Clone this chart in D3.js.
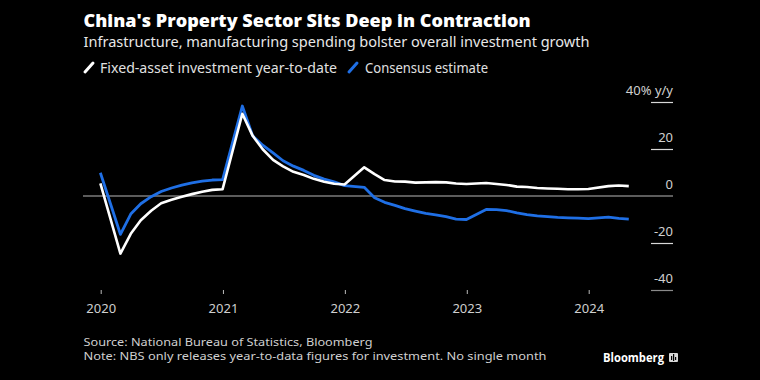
<!DOCTYPE html>
<html>
<head>
<meta charset="utf-8">
<script src="https://cdn.jsdelivr.net/npm/d3@7/dist/d3.min.js"></script>
<style>
  html, body { margin: 0; padding: 0; background: #000; }
  svg { display: block; }
</style>
</head>
<body>
<svg id="chart" width="760" height="380"></svg>
<script>
// ---- Data (year-to-date % y/y, plotted at month end) ----
const dates = [
  "2019-12",
  "2020-02","2020-03","2020-04","2020-05","2020-06","2020-07","2020-08","2020-09","2020-10","2020-11","2020-12",
  "2021-02","2021-03","2021-04","2021-05","2021-06","2021-07","2021-08","2021-09","2021-10","2021-11","2021-12",
  "2022-02","2022-03","2022-04","2022-05","2022-06","2022-07","2022-08","2022-09","2022-10","2022-11","2022-12",
  "2023-02","2023-03","2023-04","2023-05","2023-06","2023-07","2023-08","2023-09","2023-10","2023-11","2023-12",
  "2024-02","2024-03","2024-04"
];
const fixedAsset = [
  5.4,
  -24.5,-16.1,-10.3,-6.3,-3.1,-1.6,-0.3,0.8,1.8,2.6,2.9,
  35.0,25.6,19.9,15.4,12.6,10.3,8.9,7.3,6.1,5.2,4.9,
  12.2,9.3,6.8,6.2,6.1,5.7,5.8,5.9,5.8,5.3,5.1,
  5.5,5.1,4.7,4.0,3.8,3.4,3.2,3.1,2.9,2.9,3.0,
  4.2,4.5,4.2
];
const consensus = [
  9.9,
  -16.3,-7.7,-3.3,-0.3,1.9,3.4,4.6,5.6,6.3,6.8,7.0,
  38.3,25.6,21.6,18.3,15.0,12.7,10.9,8.8,7.2,6.0,4.4,
  3.7,-0.7,-2.7,-4.0,-5.4,-6.4,-7.4,-8.0,-8.8,-9.8,-10.0,
  -5.7,-5.8,-6.2,-7.2,-7.9,-8.5,-8.8,-9.1,-9.3,-9.4,-9.6,
  -9.0,-9.5,-9.8
];
const yTicks = [-40, -20, 0, 20, 40];
const xTickYears = [2020, 2021, 2022, 2023, 2024];
const seriesNames = ["Fixed-asset investment year-to-date", "Consensus estimate"];
const title = "China's Property Sector Sits Deep in Contraction";
const subtitle = "Infrastructure, manufacturing spending bolster overall investment growth";
const sourceText = "Source: National Bureau of Statistics, Bloomberg";
const noteText = "Note: NBS only releases year-to-data figures for investment. No single month";

// ---- Layout ----
const svg = d3.select("#chart");
const monthEnd = s => { const [y, m] = s.split("-").map(Number); return new Date(Date.UTC(y, m, 0)); };
const x = d3.scaleUtc()
  .domain([new Date(Date.UTC(2020, 0, 1)), new Date(Date.UTC(2024, 0, 1))])
  .range([100.7, 588.7]);
const y = d3.scaleLinear().domain([-40, 40]).range([290, 102]);

function fit(sel, w) {
  sel.attr("textLength", w).attr("lengthAdjust", "spacingAndGlyphs");
}

// Title, subtitle
svg.append("text").attr("x", 83.5).attr("y", 27)
  .attr("fill", "#fff").attr("font-family", "'Open Sans', sans-serif")
  .attr("font-weight", 800).attr("font-size", 17.5)
  .text(title).call(fit, 447);
svg.append("text").attr("x", 83.5).attr("y", 47)
  .attr("fill", "#e8e8e8").attr("font-family", "'Noto Sans', sans-serif")
  .attr("font-size", 15)
  .text(subtitle).call(fit, 506);

// Legend
const colors = ["#ffffff", "#1f6fe5"];
const legendItems = [
  { icon: 84, tx: 100, w: 237 },
  { icon: 348, tx: 365, w: 123 }
];
legendItems.forEach((it, i) => {
  svg.append("line").attr("x1", it.icon + 1).attr("y1", 72)
    .attr("x2", it.icon + 9).attr("y2", 63)
    .attr("stroke", colors[i]).attr("stroke-width", 3).attr("stroke-linecap", "round");
  svg.append("text").attr("x", it.tx).attr("y", 73)
    .attr("fill", "#e0e0e0").attr("font-family", "'Noto Sans', sans-serif")
    .attr("font-size", 14).text(seriesNames[i]).call(fit, it.w);
});

// Y axis (right side)
const yAxis = d3.axisLeft(y).tickValues(yTicks).tickSize(22)
  .tickFormat(d => d === 40 ? "40% y/y" : d3.format("d")(d).replace("\u2212", "-"));
const yG = svg.append("g").attr("transform", "translate(673,0)").call(yAxis);
yG.select(".domain").remove();
yG.selectAll(".tick line").attr("stroke", d => d === -40 ? "#8a8a8a" : "#d8d8d8").attr("stroke-width", 1.2)
  .attr("display", d => d === 0 ? "none" : null);
yG.selectAll(".tick text").attr("x", 0).attr("dy", -8)
  .attr("fill", "#d0d0d0").attr("font-family", "'Noto Sans', sans-serif").attr("font-size", 13);

// Zero line
svg.append("line").attr("x1", 83).attr("x2", 673).attr("y1", y(0)).attr("y2", y(0))
  .attr("stroke", "#b8b8b8").attr("stroke-width", 1.2);

// X axis
const xAxis = d3.axisBottom(x)
  .tickValues(xTickYears.map(yr => new Date(Date.UTC(yr, 0, 1))))
  .tickSize(4).tickFormat(d3.utcFormat("%Y"));
const xG = svg.append("g").attr("transform", "translate(0,290)").call(xAxis);
xG.select(".domain").remove();
xG.selectAll(".tick line").attr("stroke", "#bbb");
xG.selectAll(".tick text").attr("y", 23).attr("dy", 0)
  .attr("fill", "#cfcfcf").attr("font-family", "'Noto Sans', sans-serif").attr("font-size", 13);

// Lines
const pts = dates.map(monthEnd);
const line = d3.line().x((d, i) => x(pts[i])).y(d => y(d));
svg.append("path").datum(consensus).attr("d", line)
  .attr("fill", "none").attr("stroke", colors[1]).attr("stroke-width", 2.8).attr("stroke-linejoin", "round");
svg.append("path").datum(fixedAsset).attr("d", line)
  .attr("fill", "none").attr("stroke", colors[0]).attr("stroke-width", 2.6).attr("stroke-linejoin", "round");

// Footer
svg.append("text").attr("x", 83.5).attr("y", 345.5)
  .attr("fill", "#cfcfcf").attr("font-family", "'Liberation Sans Narrow', 'Noto Sans', sans-serif")
  .attr("font-size", 11.2).text(sourceText).call(fit, 289);
svg.append("text").attr("x", 83.5).attr("y", 360)
  .attr("fill", "#cfcfcf").attr("font-family", "'Liberation Sans Narrow', 'Noto Sans', sans-serif")
  .attr("font-size", 11.2).text(noteText).call(fit, 463);

// Bloomberg mark
svg.append("text").attr("x", 603).attr("y", 362)
  .attr("fill", "#fff").attr("font-family", "'Open Sans', sans-serif")
  .attr("font-weight", 700).attr("font-size", 12.5).text("Bloomberg").call(fit, 61);
const logo = svg.append("g").attr("transform", "translate(669,353)");
logo.append("rect").attr("width", 9).attr("height", 9).attr("rx", 1).attr("fill", "#d8d8d8");
[[2, 3, 4], [4, 1, 7], [6, 4, 3]].forEach(([bx, by, bh]) =>
  logo.append("rect").attr("x", bx).attr("y", by).attr("width", 1.2).attr("height", bh).attr("fill", "#000"));
</script>
</body>
</html>
